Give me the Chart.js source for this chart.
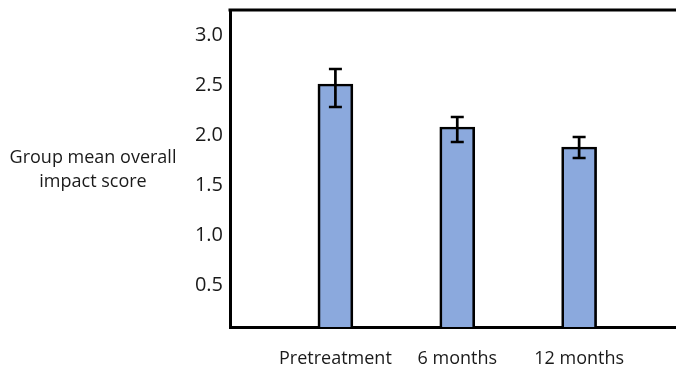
<!DOCTYPE html>
<html>
<head>
<meta charset="utf-8">
<script src="https://cdn.jsdelivr.net/npm/chart.js@4"></script>
<style>
  html, body { margin: 0; padding: 0; background: #fff; }
  #wrap { width: 676px; height: 373px; position: relative; }
</style>
</head>
<body>
<div id="wrap"><canvas id="c"></canvas></div>
<script>
// Timepoints and group mean overall impact scores with their error-bar bounds
const categories = ['Pretreatment', '6 months', '12 months'];
const means = [2.51, 2.08, 1.88];
const upperBounds = [2.66, 2.18, 1.98];
const lowerBounds = [2.28, 1.93, 1.77];
const yTicks = [0.5, 1.0, 1.5, 2.0, 2.5, 3.0];
const yTitleLines = ['Group mean overall', 'impact score'];

const FONT = "'Open Sans', sans-serif";
const INK = '#1a1a1a';

// Error bars with caps, placed through the chart's own scales
const errorBars = {
  id: 'errorBars',
  afterDatasetsDraw(chart) {
    const { ctx, scales: { x, y } } = chart;
    ctx.save();
    ctx.strokeStyle = '#000';
    ctx.lineWidth = 2.7;
    ctx.lineCap = 'butt';
    means.forEach((m, i) => {
      const px = x.getPixelForValue(i);
      const hi = y.getPixelForValue(upperBounds[i]);
      const lo = y.getPixelForValue(lowerBounds[i]);
      const cap = 6.5;
      ctx.beginPath();
      ctx.moveTo(px, hi); ctx.lineTo(px, lo);
      ctx.moveTo(px - cap, hi); ctx.lineTo(px + cap, hi);
      ctx.moveTo(px - cap, lo); ctx.lineTo(px + cap, lo);
      ctx.stroke();
    });
    ctx.restore();
  }
};

// Top frame line and the horizontal y-axis title on the left
const frameAndTitle = {
  id: 'frameAndTitle',
  afterDraw(chart) {
    const { ctx, chartArea: a } = chart;
    ctx.save();
    ctx.strokeStyle = '#000';
    ctx.lineWidth = 3;
    ctx.beginPath();
    ctx.moveTo(a.left - 1.5, a.top);
    ctx.lineTo(a.right, a.top);
    ctx.stroke();
    ctx.fillStyle = INK;
    ctx.font = '18px ' + FONT;
    ctx.textAlign = 'center';
    ctx.textBaseline = 'middle';
    yTitleLines.forEach((t, i) => ctx.fillText(t, 93, 158 + i * 24));
    ctx.restore();
  }
};

new Chart(document.getElementById('c'), {
  type: 'bar',
  data: {
    datasets: [{
      data: means.map((v, i) => ({ x: i, y: v })),
      backgroundColor: '#8ba9dd',
      borderColor: '#000',
      borderWidth: 2.7,
      borderSkipped: false,
      barThickness: 35
    }]
  },
  options: {
    responsive: true,
    maintainAspectRatio: false,
    animation: false,
    layout: { padding: { left: 0, right: 0, top: 10, bottom: 0 } },
    plugins: { legend: { display: false }, tooltip: { enabled: false } },
    scales: {
      x: {
        type: 'linear',
        offset: false,
        min: -0.865,
        max: 2.795,
        grid: { display: false, drawTicks: false },
        border: { display: true, color: '#000', width: 3 },
        afterBuildTicks: s => { s.ticks = categories.map((_, i) => ({ value: i })); },
        afterFit: s => { s.height = 46; s.paddingLeft = 0; s.paddingRight = 0; },
        ticks: {
          autoSkip: false,
          maxRotation: 0,
          padding: 21,
          color: INK,
          font: { family: FONT, size: 18 },
          callback: v => categories[v]
        }
      },
      y: {
        min: 0.08,
        max: 3.25,
        grid: { display: false, drawTicks: false },
        border: { display: true, color: '#000', width: 3 },
        afterBuildTicks: s => { s.ticks = yTicks.map(v => ({ value: v })); },
        afterFit: s => { s.width = 230; s.paddingTop = 0; s.paddingBottom = 0; },
        ticks: {
          padding: 7,
          color: INK,
          font: { family: FONT, size: 20 },
          callback: v => v.toFixed(1)
        }
      }
    }
  },
  plugins: [errorBars, frameAndTitle]
});
</script>
</body>
</html>
